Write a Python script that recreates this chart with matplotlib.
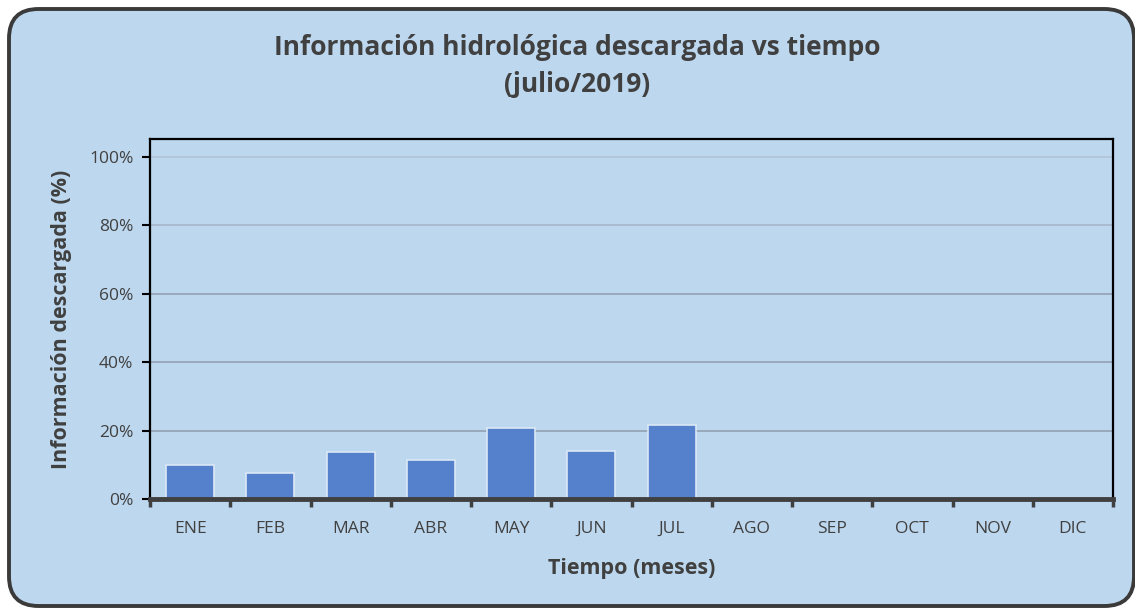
import numpy as np
import matplotlib.pyplot as plt
from matplotlib.patches import FancyBboxPatch
from matplotlib.ticker import PercentFormatter

meses = ['ENE', 'FEB', 'MAR', 'ABR', 'MAY', 'JUN', 'JUL', 'AGO', 'SEP', 'OCT', 'NOV', 'DIC']
descarga = [0.099, 0.077, 0.138, 0.115, 0.208, 0.141, 0.217, 0, 0, 0, 0, 0]

plt.rcParams['font.family'] = ['Open Sans', 'DejaVu Sans']
W, H = 1135, 609
fig = plt.figure(figsize=(W / 100, H / 100), dpi=100)
fig.patch.set_facecolor('white')

bg = '#bdd7ee'
txt = '#404040'
box = FancyBboxPatch((9 / W, 3 / H), (1125 / W), (597 / H),
                     boxstyle='round,pad=0,rounding_size=0.026',
                     transform=fig.transFigure, facecolor=bg, edgecolor='#3a3a3a',
                     linewidth=2.8, mutation_aspect=W / H, zorder=-5)
fig.patches.append(box)

ax = fig.add_axes([150 / W, 1 - 499 / H, (1113 - 150) / W, (499 - 139) / H])
ax.set_facecolor(bg)
x = np.arange(len(meses))
ax.bar(x, descarga, width=0.6, color='#5580cb', edgecolor='#dbe8f5', linewidth=1.2, zorder=3)

ax.set_xlim(-0.5, 11.5)
ax.set_ylim(0, 1.053)
ax.set_yticks(np.arange(0, 1.01, 0.2))
ax.yaxis.set_major_formatter(PercentFormatter(1.0, decimals=0))
ax.set_xticks(x)
ax.set_xticklabels(meses)
ax.set_xticks(np.arange(-0.5, 12, 1), minor=True)
ax.tick_params(axis='x', which='major', length=0, pad=16, labelsize=12.5, labelcolor=txt)
ax.tick_params(axis='x', which='minor', length=6, width=2.5, color=txt, direction='out')
ax.tick_params(axis='y', length=6, width=1.5, color='black', labelsize=12.5, labelcolor=txt, pad=6)

ax.grid(axis='y', color='#8d9dad', linewidth=1.1, zorder=1)
# lineas superiores mas claras, como en el original
gl = ax.get_ygridlines()
gl[4].set_color('#a3b5c6')
gl[5].set_color('#b0c3d5')
for s in ['left', 'top', 'right']:
    ax.spines[s].set_color('black')
    ax.spines[s].set_linewidth(1.6)
ax.spines['bottom'].set_color(txt)
ax.spines['bottom'].set_linewidth(3.5)
ax.spines['bottom'].set_zorder(4)

ax.set_xlabel('Tiempo (meses)', fontsize=15.5, fontweight='bold', color=txt, labelpad=15)
ax.set_ylabel('Información descargada (%)', fontsize=15.5, fontweight='bold', color=txt, labelpad=12)
fig.text(577 / W, 1 - 66 / H, 'Información hidrológica descargada vs tiempo\n(julio/2019)',
         ha='center', va='center', fontsize=19, fontweight='bold', color=txt, linespacing=1.45)

fig.savefig('out.png', dpi=100, facecolor=fig.get_facecolor())
